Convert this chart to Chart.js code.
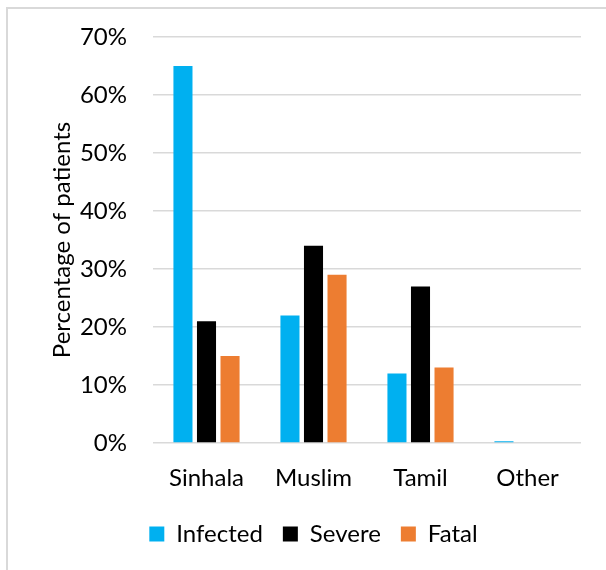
<!DOCTYPE html>
<html>
<head>
<meta charset="utf-8">
<script src="https://cdn.jsdelivr.net/npm/chart.js@4/dist/chart.umd.min.js"></script>
<style>
  html, body { margin: 0; padding: 0; background: #fff; }
  #frame {
    position: absolute; left: 6px; top: 7px; width: 700px; height: 700px;
    border-left: 2px solid #d9d9d9; border-top: 2px solid #d9d9d9;
  }
  #wrap { position: absolute; left: 0; top: 0; width: 606px; height: 570px; }
</style>
</head>
<body>
<div id="frame"></div>
<div id="wrap"><canvas id="chart" width="606" height="570"></canvas></div>
<script>
// categories and series
const groups = ['Sinhala', 'Muslim', 'Tamil', 'Other'];
const infected = [65, 22, 12, 0.3];
const severe = [21, 34, 27, 0];
const fatal = [15, 29, 13, 0];
const yTicks = [0, 10, 20, 30, 40, 50, 60, 70];

const fontFamily = 'Lato, "Noto Sans", sans-serif';
const fontSize = 24;

// the legend in the original sits a bit right of the plot centre
const legendShift = {
    id: 'legendShift',
    afterLayout(chart) {
        chart.legend.left += 23;
        chart.legend.right += 23;
    }
};

const ctx = document.getElementById('chart').getContext('2d');
const chart = new Chart(ctx, {
    type: 'bar',
    data: {
        labels: groups,
        datasets: [
            { label: 'Infected', data: infected, backgroundColor: '#00b0f0' },
            { label: 'Severe', data: severe, backgroundColor: '#000000' },
            { label: 'Fatal', data: fatal, backgroundColor: '#ed7d31' }
        ]
    },
    options: {
        responsive: false,
        animation: false,
        datasets: {
            bar: { categoryPercentage: 0.66, barPercentage: 0.81 }
        },
        layout: {
            padding: { left: 0, right: 25, top: 37, bottom: 14 }
        },
        scales: {
            x: {
                grid: { display: false },
                border: { display: false },
                ticks: {
                    color: '#000',
                    padding: 13,
                    font: { family: fontFamily, size: fontSize }
                },
                afterFit: function(scale) { scale.height = 59; }
            },
            y: {
                min: 0,
                max: 70,
                afterBuildTicks: function(scale) {
                    scale.ticks = yTicks.map(v => ({ value: v }));
                },
                grid: { color: '#d9d9d9', lineWidth: 1.5, drawTicks: false },
                border: { display: false },
                ticks: {
                    color: '#000',
                    padding: 26,
                    font: { family: fontFamily, size: fontSize },
                    callback: v => v + '%'
                },
                title: {
                    display: true,
                    text: 'Percentage of patients',
                    color: '#000',
                    font: { family: fontFamily, size: fontSize },
                    padding: { top: 48, bottom: 0 }
                },
                afterFit: function(scale) {
                    scale.width = 153;
                    scale.paddingTop = 0;
                    scale.paddingBottom = 0;
                }
            }
        },
        plugins: {
            legend: {
                position: 'bottom',
                labels: {
                    color: '#000',
                    boxWidth: 15,
                    boxHeight: 15,
                    padding: 20,
                    font: { family: fontFamily, size: fontSize }
                }
            },
            tooltip: { enabled: false }
        }
    },
    plugins: [legendShift]
});
</script>
</body>
</html>
